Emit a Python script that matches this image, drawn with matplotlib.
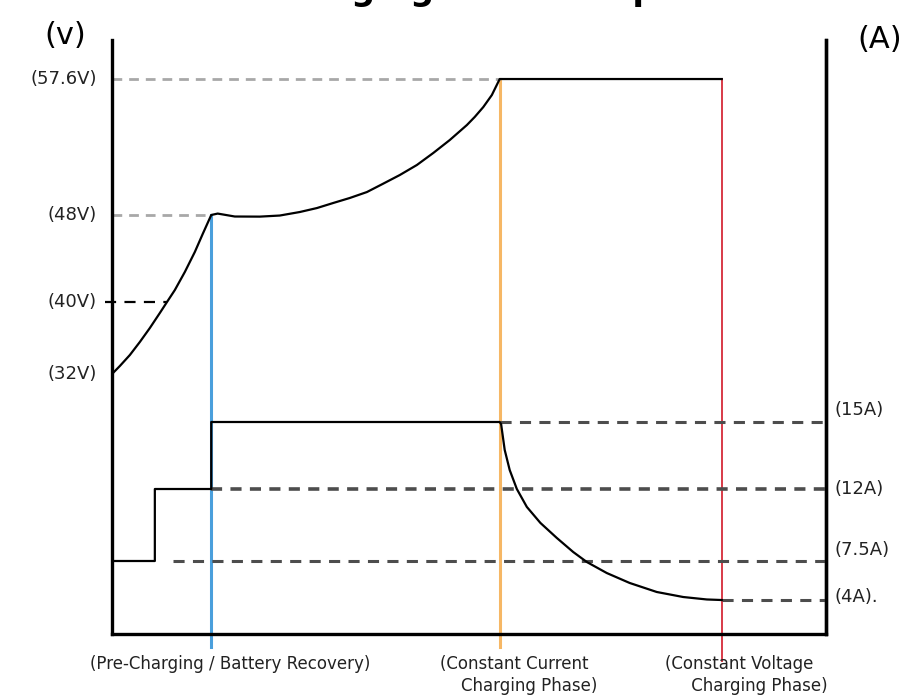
import numpy as np
import matplotlib.pyplot as plt
from matplotlib.transforms import blended_transform_factory

plt.rcParams['font.family'] = ['DejaVu Sans']
plt.rcParams['lines.scale_dashes'] = False

# Stage boundaries (schematic time units)
t_step = 0.60
t_pre_end = 1.39
t_cc_end = 5.43
t_cv_end = 8.54

# Voltage curve (V)
volt_t = [0, 0.11, 0.25, 0.39, 0.53, 0.67, 0.77, 0.88, 1.02, 1.16, 1.27, 1.39,
          1.48, 1.72, 2.07, 2.35, 2.63, 2.87, 3.10, 3.33, 3.57, 3.79, 4.03, 4.27,
          4.50, 4.73, 4.97, 5.08, 5.20, 5.32, 5.43,
          8.54]
volt_v = [32, 32.89, 34.11, 35.56, 37.11, 38.78, 40, 41.10, 42.76, 44.60, 46.25, 48,
          48.1, 47.86, 47.85, 47.95, 48.21, 48.49, 48.85, 49.20, 49.62, 50.19, 50.82, 51.53,
          52.38, 53.29, 54.35, 54.92, 55.62, 56.47, 57.6,
          57.6]

# Current curve (A)
curr_t = [0, t_step, t_step, t_pre_end, t_pre_end, 5.43,
          5.45, 5.50, 5.57, 5.67, 5.81, 6.00, 6.23, 6.46, 6.65, 6.93, 7.25, 7.63,
          8.00, 8.33, 8.54]
curr_a = [7.5, 7.5, 12, 12, 15, 15,
          14.9, 13.75, 12.85, 12, 10.88, 9.88, 8.94, 8.06, 7.41, 6.42, 5.53, 4.72,
          4.27, 4.05, 4.0]

volt_ticks = [32, 40, 48, 57.6]
volt_labels = ['(32V)', '(40V)', '(48V)', '(57.6V)']
curr_ticks = [15, 12, 7.5, 4]
curr_labels = ['(15A)', '(12A)', '(7.5A)', '(4A).']

# schematic (non-linear) axis scales
v_knots = [-10, 0, 32, 40, 48, 57.6, 62]
v_pos = [-0.1368, 0, 0.4377, 0.5589, 0.7054, 0.9343, 1.0]
a_knots = [-10, 0, 4, 7.5, 12, 15, 40]
a_pos = [-0.143, 0, 0.0572, 0.1229, 0.2441, 0.3569, 1.0]


def make_scale(knots, pos):
    return (lambda v: np.interp(v, knots, pos),
            lambda p: np.interp(p, pos, knots))


fig = plt.figure(figsize=(9.15, 6.98), dpi=100)
ax = fig.add_axes([112 / 915, 64 / 698, 714 / 915, 594 / 698])
ax.set_yscale('function', functions=make_scale(v_knots, v_pos))
ax.set_ylim(0, 62)
ax.set_xlim(0, 10)

ax2 = ax.twinx()
ax2.set_yscale('function', functions=make_scale(a_knots, a_pos))
ax2.set_ylim(0, 40)

for a in (ax, ax2):
    a.spines['top'].set_visible(False)
    for s in ('left', 'right', 'bottom'):
        a.spines[s].set_linewidth(2.4)
    a.set_xticks([])
    a.set_yticks([])
ax2.spines['left'].set_visible(False)
ax2.spines['bottom'].set_visible(False)

# voltage reference lines
ax.plot([0, t_cc_end], [57.6, 57.6], color='#a8a8a8', lw=2, dashes=(7, 5))
ax.plot([0, t_pre_end], [48, 48], color='#a8a8a8', lw=2, dashes=(7, 5))
ax.plot([-0.1, 0.77], [40, 40], color='black', lw=1.6, dashes=(8, 6), clip_on=False)

# current reference lines
ax2.plot([t_cc_end, 10], [15, 15], color='#4d4d4d', lw=2.2, dashes=(8, 6))
ax2.plot([t_pre_end, 10], [12, 12], color='#4d4d4d', lw=2.6, dashes=(8, 6))
ax2.plot([t_step + 0.25, 10], [7.5, 7.5], color='#4d4d4d', lw=2.2, dashes=(8, 6))
ax2.plot([t_cv_end, 10], [4, 4], color='#4d4d4d', lw=2.2, dashes=(8, 6))

# stage boundary lines
ax.plot([t_pre_end, t_pre_end], [48, -1.6], color='#4a9fdc', lw=2.2, clip_on=False, zorder=1)
ax.plot([t_cc_end, t_cc_end], [57.6, -1.6], color='#f6b765', lw=2.2, clip_on=False, zorder=1)
ax.plot([t_cv_end, t_cv_end], [57.6, -3.3], color='#d83a48', lw=1.4, clip_on=False, zorder=1)

# curves
ax.plot(volt_t, volt_v, color='black', lw=1.6, zorder=3)
ax2.plot(curr_t, curr_a, color='black', lw=1.6, zorder=3)

# tick labels
vtr = blended_transform_factory(ax.transAxes, ax.transData)
for v, lab in zip(volt_ticks, volt_labels):
    ax.text(-0.021, v, lab, transform=vtr, ha='right', va='center', fontsize=13, color='#222222')

atr = blended_transform_factory(ax2.transAxes, ax2.transData)
curr_dy = [9, 0, 8, 2]
for c, lab, dy in zip(curr_ticks, curr_labels, curr_dy):
    ax2.annotate(lab, xy=(1, c), xycoords=atr, xytext=(6, dy), color='#222222',
                 textcoords='offset points', ha='left', va='center', fontsize=13)

fig.text(65 / 915, 1 - 35 / 698, '(v)', fontsize=22, ha='center', va='center')
fig.text(880 / 915, 1 - 40 / 698, '(A)', fontsize=22, ha='center', va='center')

# stage labels
btr = blended_transform_factory(ax.transData, ax.transAxes)
ax.text(1.65, -0.035, '(Pre-Charging / Battery Recovery)', transform=btr,
        ha='center', va='top', fontsize=12, color='#222222')
ax.text(4.6, -0.035, '(Constant Current\n    Charging Phase)', transform=btr,
        ha='left', va='top', fontsize=12, linespacing=1.3, color='#222222')
ax.text(7.75, -0.035, '(Constant Voltage\n     Charging Phase)', transform=btr,
        ha='left', va='top', fontsize=12, linespacing=1.3, color='#222222')

# title, cut off at the top edge as in the source image
fig.text(264 / 915, 1.0, 'Charging Curve Graph', fontsize=24, fontweight='bold',
         ha='left', va='baseline')

fig.savefig('out.png', dpi=100)
